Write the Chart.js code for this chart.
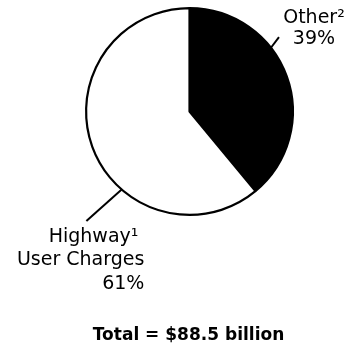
<!DOCTYPE html>
<html>
<head>
<meta charset="utf-8">
<script src="https://cdn.jsdelivr.net/npm/chart.js@4/dist/chart.umd.min.js"></script>
<style>
  html, body { margin: 0; padding: 0; background: #fff; }
  #wrap { position: relative; width: 347px; height: 351px; }
</style>
</head>
<body>
<div id="wrap"><canvas id="c" width="347" height="351"></canvas></div>
<script>
// Highway funding sources
const categories = ['Other', 'Highway User Charges'];
const shares = [39, 61];
const labelLines = [['Other\u00B2', '39%'], ['Highway\u00B9', 'User Charges', '61%']];
const totalText = 'Total = $88.5 billion';

const FONT = '"DejaVu Sans", sans-serif';

// Outside labels with short leader lines, anchored on each slice's edge
const sliceLabels = {
  id: 'sliceLabels',
  afterDatasetsDraw(chart, args, opts) {
    const ctx = chart.ctx;
    const arcs = chart.getDatasetMeta(0).data;
    arcs.forEach((arc, i) => {
      const cfg = opts.items[i];
      const p = arc.getProps(['x', 'y', 'startAngle', 'endAngle', 'outerRadius'], true);
      const a = p.startAngle + cfg.frac * (p.endAngle - p.startAngle);
      const a2 = a + cfg.bend;
      const x0 = p.x + Math.cos(a) * p.outerRadius;
      const y0 = p.y + Math.sin(a) * p.outerRadius;
      const x1 = p.x + Math.cos(a2) * (p.outerRadius + cfg.len);
      const y1 = p.y + Math.sin(a2) * (p.outerRadius + cfg.len);
      ctx.save();
      ctx.strokeStyle = '#000';
      ctx.lineWidth = 2;
      ctx.beginPath();
      ctx.moveTo(x0, y0);
      ctx.lineTo(x1, y1);
      ctx.stroke();
      ctx.fillStyle = '#000';
      ctx.font = '19px ' + FONT;
      ctx.textAlign = cfg.align;
      ctx.textBaseline = 'alphabetic';
      labelLines[i].forEach((t, k) => {
        ctx.fillText(t, x1 + cfg.dx + (cfg.lineDx ? cfg.lineDx[k] : 0), y1 + cfg.dy + k * cfg.lh);
      });
      ctx.restore();
    });
    ctx.save();
    ctx.fillStyle = '#000';
    ctx.font = 'bold 17px ' + FONT;
    ctx.textAlign = 'center';
    ctx.fillText(totalText, opts.totalX, opts.totalY);
    ctx.restore();
  }
};

new Chart(document.getElementById('c'), {
  type: 'pie',
  data: {
    labels: categories,
    datasets: [{
      data: shares,
      backgroundColor: ['#000000', '#ffffff'],
      borderColor: '#000000',
      borderWidth: 2.2
    }]
  },
  options: {
    responsive: false,
    animation: false,
    layout: { padding: { left: 85, right: 53, top: 7, bottom: 135 } },
    plugins: {
      legend: { display: false },
      tooltip: { enabled: false },
      sliceLabels: {
        items: [
          { frac: 0.37, bend: -0.03, len: 13, align: 'center', dx: 35, dy: -14, lh: 21 },
          { frac: 0.367, bend: 0.04, len: 47, align: 'right', dx: 58, dy: 21, lh: 23.5, lineDx: [-6, 0, 0] }
        ],
        totalX: 188.5,
        totalY: 340
      }
    }
  },
  plugins: [sliceLabels]
});
</script>
</body>
</html>
